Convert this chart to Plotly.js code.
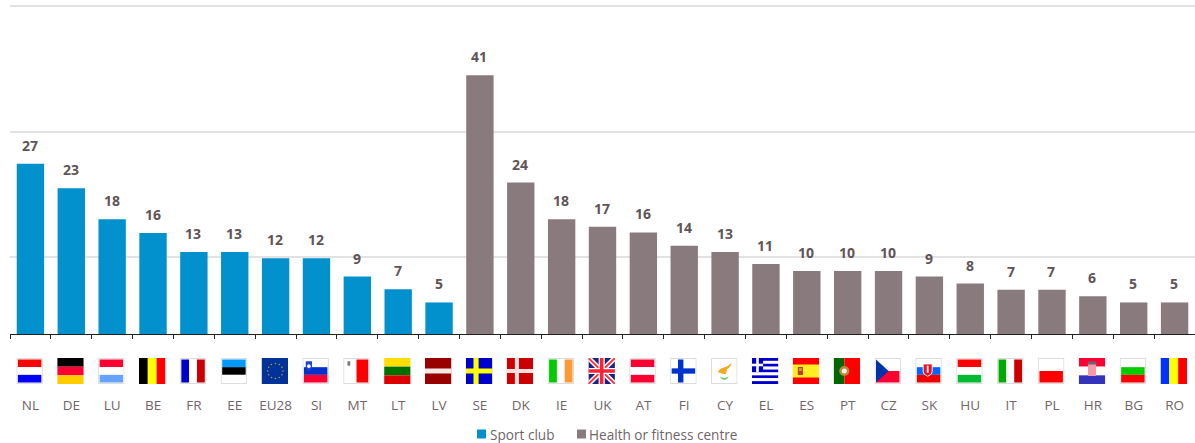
<!DOCTYPE html>
<html>
<head>
<meta charset="utf-8">
<script src="https://cdn.plot.ly/plotly-3.0.1.min.js"></script>
<style>html,body{margin:0;padding:0;background:#fff}#chart{width:1195px;height:443px}</style>
</head>
<body>
<div id="chart"></div>
<script>
var sportCategories = ['NL','DE','LU','BE','FR','EE','EU28','SI','MT','LT','LV'];
var sportValues = [27,23.1,18.2,16,13,13,12,12,9.1,7.1,5];
var healthCategories = ['SE','DK','IE','UK','AT','FI','CY','EL','ES','PT','CZ','SK','HU','IT','PL','HR','BG','RO'];
var healthValues = [41,24,18.2,17,16.1,14,13,11.1,10,10,10,9.1,8,7,7,6,5,5];
var gridValues = [12.2,32,52];
var sportName = 'Sport club';
var healthName = 'Health or fitness centre';

var BLUE = '#0391cd', BROWN = '#897a7d', LABEL = '#5f5458', TICK = '#6f6569';

function rects(list){return list.map(function(r){return '<rect x="'+r[0]+'" y="'+r[1]+'" width="'+r[2]+'" height="'+r[3]+'" fill="'+r[4]+'"/>';}).join('');}
function hStripes(c,x,w,t,h){x=x||0;w=w||26;t=t||0;h=h||26;var s=h/c.length;return rects(c.map(function(k,i){return [x,t+i*s,w,s,k];}));}
function vStripes(c,x,w,t,h){x=x||0;w=w||26;t=t||0;h=h||26;var s=w/c.length;return rects(c.map(function(k,i){return [x+i*s,t,s,h,k];}));}
function frame(inner){return '<rect x="0.5" y="0.5" width="25" height="25" fill="#fff" stroke="#dcdcdc"/><g transform="translate(1.5 1.5) scale(0.885)">'+inner+'</g>';}
function stars(){var o='';for(var i=0;i<12;i++){var a=i*Math.PI/6;o+='<circle cx="'+(13.5+7.5*Math.cos(a)).toFixed(1)+'" cy="'+(13+7.5*Math.sin(a)).toFixed(1)+'" r="0.75" fill="#b9a63a"/>';}return o;}

var flagArt = {
 NL: frame(hStripes(['#ff0000','#ffffff','#0000ff'])),
 DE: hStripes(['#000000','#ff0033','#ffcc00']),
 LU: frame(hStripes(['#ff0033','#ffffff','#66a3ff'])),
 BE: vStripes(['#000000','#ffff00','#ff0000']),
 FR: frame(vStripes(['#0000cc','#ffffff','#cc0000'])),
 EE: frame(hStripes(['#0099ff','#000000','#ffffff'])),
 EU28: rects([[0,0,26,26,'#003399']])+stars(),
 SI: frame(hStripes(['#ffffff','#0033cc','#ff0033'])+'<path d="M2 2h7v6q0 3-3.5 5Q2 11 2 8z" fill="#2244cc"/><circle cx="5.5" cy="7.5" r="2" fill="#fff"/>'),
 MT: frame(vStripes(['#ffffff','#ff0000'])+'<rect x="3" y="2" width="3" height="5" fill="#777"/>'),
 LT: hStripes(['#ffdd00','#007000','#dd0000']),
 LV: rects([[0,0,26,26,'#990000'],[0,10.5,26,5,'#f4e8e8']]),
 SE: rects([[0,0,26,26,'#0000cc'],[7.5,0,5,26,'#ffff00'],[0,10.5,26,5,'#ffff00']]),
 DK: rects([[0,0,26,26,'#cc0000'],[8,0,4,26,'#f5e0e0'],[0,11,26,4,'#f5e0e0']]),
 IE: frame(vStripes(['#00cc00','#ffffff','#ff9933'])),
 UK: rects([[0,0,26,26,'#1a237e']])+'<path d="M0 0L26 26M26 0L0 26" stroke="#fff" stroke-width="5"/><path d="M0 0L26 26M26 0L0 26" stroke="#ff3344" stroke-width="2"/>'+rects([[10,0,6,26,'#fff'],[0,10,26,6,'#fff'],[11.25,0,3.5,26,'#ff2233'],[0,11.25,26,3.5,'#ff2233']]),
 AT: frame(hStripes(['#ff0033','#ffffff','#ff0033'])),
 FI: frame(rects([[0,0,26,26,'#ffffff'],[7,0,6,26,'#0033cc'],[0,10,26,6,'#0033cc']])),
 CY: frame(rects([[0,0,26,26,'#ffffff']])+'<path d="M6 14q2-4 7-5 4-1 8-5-1 5-5 7l-1 5q-4 1-6-1-2 0-3-1z" fill="#f2a91d"/><path d="M8 19q5 4 10 0-2 4-5 4t-5-4z" fill="#66cc66"/>'),
 EL: hStripes(['#0000cc','#ffffff','#0000cc','#ffffff','#0000cc','#ffffff','#0000cc','#ffffff','#0000cc'])+rects([[0,0,11,14,'#0000cc'],[4.2,0,2.6,14,'#fff'],[0,5.7,11,2.6,'#fff']]),
 ES: rects([[0,0,26,26,'#ff0000'],[0,6.5,26,13,'#ffee22'],[5,9,5,8,'#c0392b'],[6,10,3,3,'#cc9933']]),
 PT: rects([[0,0,10.5,26,'#006600'],[10.5,0,15.5,26,'#ff0000']])+'<circle cx="10.5" cy="13" r="5" fill="#b58a3a"/><circle cx="10.5" cy="13" r="2.5" fill="#eee"/>',
 CZ: frame(rects([[0,0,26,13,'#ffffff'],[0,13,26,13,'#ff0033']])+'<path d="M0 0L14 13L0 26z" fill="#0033aa"/>'),
 SK: frame(hStripes(['#ffffff','#0066ff','#ee0000'])+'<path d="M7 5h10v9q0 3-5 5-5-2-5-5z" fill="#ee1122" stroke="#fff"/><rect x="11" y="7" width="2" height="8" fill="#fff"/>'),
 HU: frame(hStripes(['#ff0000','#ffffff','#00bb33'])),
 IT: frame(vStripes(['#00aa00','#ffffff','#cc0000'])),
 PL: frame(hStripes(['#ffffff','#ff0000'])),
 HR: hStripes(['#ff0033','#ffffff','#3333bb'])+rects([[9,4,8,14,'#f49aa8']])+'<rect x="9" y="3.5" width="8" height="3" fill="#667"/>',
 BG: frame(hStripes(['#ffffff','#00cc00','#ff0000'])),
 RO: vStripes(['#0033ff','#ffff00','#ff0000'])
};

function flagUri(code){
  return 'data:image/svg+xml,'+encodeURIComponent('<svg xmlns="http://www.w3.org/2000/svg" width="26" height="26" viewBox="0 0 26 26" preserveAspectRatio="none">'+flagArt[code]+'</svg>');
}

var allCategories = sportCategories.concat(healthCategories);
var allValues = sportValues.concat(healthValues);
var PX = 1185, PY = 334, STEP = PX/allCategories.length;

var sportTrace = {type:'bar',name:sportName,x:sportCategories,y:sportValues,marker:{color:BLUE},width:0.67,showlegend:false,hoverinfo:'x+y'};
var healthTrace = {type:'bar',name:healthName,x:healthCategories,y:healthValues,marker:{color:BROWN},width:0.67,showlegend:false,hoverinfo:'x+y'};

var annotations = allCategories.map(function(c,i){
  return {x:c,y:allValues[i],xref:'x',yref:'y',text:String(Math.round(allValues[i])),showarrow:false,yanchor:'middle',xanchor:'center',yshift:18.5,xshift:-0.5,
          font:{family:'"Open Sans", sans-serif',size:14,color:LABEL,weight:700}};
});
function legendText(t,px){return {x:(px-10)/PX,y:-(434-334)/PY,xref:'paper',yref:'paper',text:t,showarrow:false,xanchor:'left',yanchor:'middle',
  font:{family:'"Open Sans", sans-serif',size:13.6,color:TICK},borderpad:0};}
annotations.push(legendText(sportName,489));
annotations.push(legendText(healthName,588));

function legendBox(px,col){return {type:'rect',xref:'paper',yref:'paper',x0:(px-10)/PX,x1:(px+9-10)/PX,y0:-(438.5-334)/PY,y1:-(429.5-334)/PY,fillcolor:col,line:{width:0}};}

var images = allCategories.map(function(c,i){
  return {source:flagUri(c),xref:'x',yref:'paper',x:i-0.02,y:-24/PY,sizex:26.5/STEP,sizey:26/PY,xanchor:'center',yanchor:'top',sizing:'stretch',layer:'above'};
});

var layout = {
  width:1195,height:443,autosize:false,
  margin:{l:10,r:0,t:0,b:109,pad:0},
  paper_bgcolor:'#fff',plot_bgcolor:'#fff',
  barmode:'overlay',showlegend:false,
  font:{family:'"Open Sans", sans-serif',color:TICK},
  xaxis:{type:'category',categoryorder:'array',categoryarray:allCategories,range:[-0.5,28.5],
         showline:true,linecolor:'#222',linewidth:1,ticks:'outside',ticklen:4,tickcolor:'#222',tickwidth:1,tickson:'boundaries',
         showgrid:false,zeroline:false,tickangle:0,ticklabelstandoff:59,tickfont:{size:13.5,color:TICK,family:'"Open Sans", sans-serif'},
         fixedrange:true},
  yaxis:{range:[0,PY/6.31],tickmode:'array',tickvals:gridValues,showticklabels:false,ticks:'',showgrid:true,gridcolor:'#e2e2e2',gridwidth:2,zeroline:false,showline:false,fixedrange:true},
  annotations:annotations,
  images:images,
  shapes:[legendBox(477,BLUE),legendBox(577,BROWN)]
};
Plotly.newPlot('chart',[sportTrace,healthTrace],layout,{displayModeBar:false,staticPlot:true});
</script>
</body>
</html>
